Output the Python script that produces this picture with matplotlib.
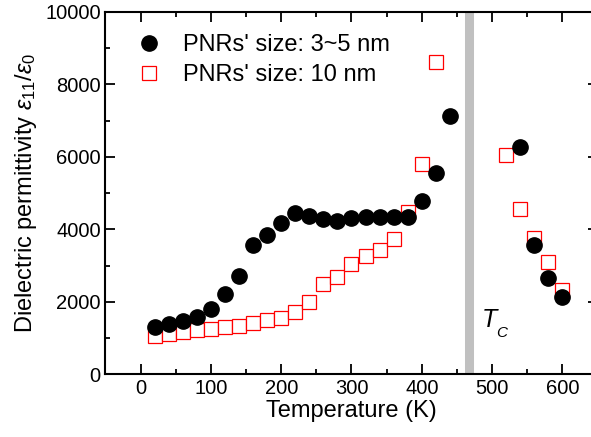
import numpy as np
import matplotlib
matplotlib.use("Agg")
from matplotlib import pyplot as plt

plt.rcParams["font.family"] = ["Liberation Sans", "DejaVu Sans"]
plt.rcParams["mathtext.fontset"] = "custom"
plt.rcParams["mathtext.rm"] = "Liberation Sans"
plt.rcParams["mathtext.it"] = "Liberation Sans:italic"

# PNRs 3~5 nm
temp_small = [20, 40, 60, 80, 100, 120, 140, 160, 180, 200, 220, 240, 260, 280,
              300, 320, 340, 360, 380, 400, 420, 440, 540, 560, 580, 600]
eps_small = [1300, 1400, 1470, 1570, 1810, 2220, 2710, 3580, 3850, 4160, 4450,
             4370, 4280, 4230, 4300, 4330, 4350, 4350, 4350, 4770, 5550, 7130,
             6280, 3570, 2650, 2130]

# PNRs 10 nm
temp_large = [20, 40, 60, 80, 100, 120, 140, 160, 180, 200, 220, 240, 260, 280,
              300, 320, 340, 360, 380, 400, 420, 520, 540, 560, 580, 600]
eps_large = [1070, 1110, 1180, 1210, 1240, 1300, 1340, 1410, 1500, 1560, 1720,
             2000, 2490, 2680, 3040, 3250, 3430, 3730, 4480, 5790, 8610,
             6060, 4550, 3750, 3110, 2330]

tc = 467

fig = plt.figure(figsize=(5.91, 4.37), dpi=100)
ax = fig.add_axes([0.1785, 0.1435, 0.8325, 0.8295])

ax.axvline(tc, color="#c0c0c0", lw=6.5, zorder=1)

ax.plot(temp_large, eps_large, ls="none", marker="s", ms=9.5,
        mfc="white", mec="red", mew=0.9, label="PNRs' size: 10 nm", zorder=3)
ax.plot(temp_small, eps_small, ls="none", marker="o", ms=11,
        color="black", label="PNRs' size: 3~5 nm", zorder=4)

# T_C label, subscript placed by hand
ax.text(486, 1300, "T", fontsize=18, style="italic")
ax.annotate("C", xy=(486, 1300), xytext=(10, -7), textcoords="offset points",
            fontsize=11, style="italic")

ax.set_xlim(-50, 650)
ax.set_ylim(0, 10000)
ax.set_xticks(np.arange(0, 601, 100))
ax.set_xticks(np.arange(-50, 651, 50), minor=True)
ax.set_yticks(np.arange(0, 10001, 2000))
ax.set_yticks(np.arange(0, 10001, 1000), minor=True)

ax.tick_params(which="both", direction="in", top=True, right=True,
               labelsize=14.5, width=1.3)
ax.tick_params(which="major", length=7)
ax.tick_params(which="minor", length=3.5)
for s in ax.spines.values():
    s.set_linewidth(1.5)

ax.set_xlabel("Temperature (K)", fontsize=17, labelpad=1)
ax.set_ylabel(r"Dielectric permittivity $\varepsilon_{11}/\varepsilon_0$",
              fontsize=17, labelpad=4)

handles, labels = ax.get_legend_handles_labels()
ax.legend(handles[::-1], labels[::-1], loc="upper left",
          bbox_to_anchor=(0.04, 0.965), frameon=False, fontsize=17,
          handlelength=1.2, handletextpad=0.85, labelspacing=0.35,
          borderaxespad=0)

fig.savefig("out.png", dpi=100)
